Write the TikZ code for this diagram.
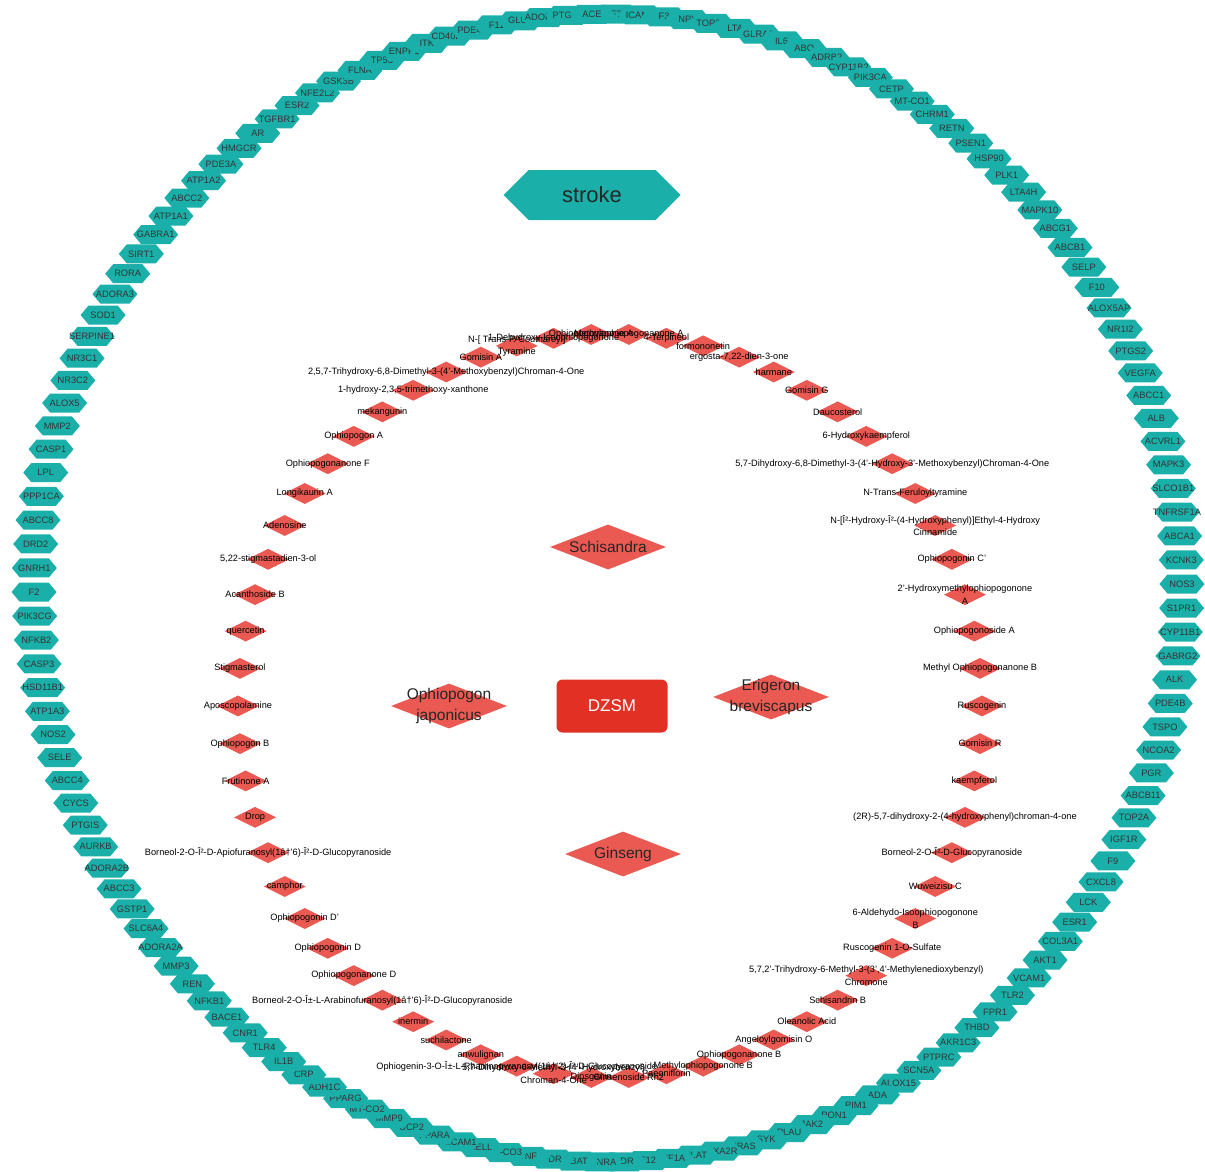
\documentclass[tikz,border=0pt]{standalone}
\usepackage{fontspec}
\setmainfont{Liberation Sans}
\usetikzlibrary{shapes.geometric,shapes.symbols}
\definecolor{tealc}{RGB}{26,176,169}
\definecolor{redc}{RGB}{234,90,82}
\definecolor{dzsmc}{RGB}{226,48,36}
\tikzset{
  gene/.style={shape=signal, signal to=east and west, signal pointer angle=100, fill=tealc, draw=none,
    minimum width=45pt, minimum height=19pt, inner sep=0pt},
  genetext/.style={font=\fontsize{9.3}{10}\selectfont, text=black!80, inner sep=0pt},
  comp/.style={diamond, aspect=2, fill=redc, draw=none, minimum width=42pt, minimum height=21pt, inner sep=0pt},
  comptext/.style={font=\fontsize{9.2}{12.5}\selectfont, align=center, text=black, inner sep=0pt},
  herb/.style={diamond, aspect=2.5, fill=redc, draw=none, minimum width=116pt, minimum height=45pt, inner sep=0pt},
  herbtext/.style={font=\fontsize{15.5}{21}\selectfont, align=center, text=black!85, inner sep=0pt},
}
\begin{document}
\begin{tikzpicture}[x=1pt,y=-1pt]
\useasboundingbox (0,0) rectangle (1205,1172);
\fill[white] (0,0) rectangle (1205,1172);

% outer ring of targets
\foreach \n [count=\i from 0] in {F7,ICAM1,F3,NPY,TOP2B,LTA,GLRA1,IL6,ABO,ADRB2,CYP11B2,PIK3CA,CETP,MT-CO1,CHRM1,RETN,PSEN1,HSP90,PLK1,LTA4H,
 MAPK10,ABCG1,ABCB1,SELP,F10,ALOX5AP,NR1I2,PTGS2,VEGFA,ABCC1,ALB,ACVRL1,MAPK3,SLCO1B1,TNFRSF1A,ABCA1,KCNK3,NOS3,S1PR1,CYP11B1,
 GABRG2,ALK,PDE4B,TSPO,NCOA2,PGR,ABCB11,TOP2A,IGF1R,F9,CXCL8,LCK,ESR1,COL3A1,AKT1,VCAM1,TLR2,FPR1,THBD,AKR1C3,
 PTPRC,SCN5A,ALOX15,ADA,PIM1,PON1,JAK2,PLAU,SYK,HRAS,TBXA2R,PLAT,HIF1A,F12,KDR,EDNRA,ABAT,VDR,TNF,MT-CO3,
 SELL,PECAM1,PPARA,UCP2,MMP9,MT-CO2,PPARG,ADH1C,CRP,IL1B,TLR4,CNR1,BACE1,NFKB1,REN,MMP3,ADORA2A,SLC6A4,GSTP1,ABCC3,
 ADORA2B,AURKB,PTGIS,CYCS,ABCC4,SELE,NOS2,ATP1A3,HSD11B1,CASP3,NFKB2,PIK3CG,F2,GNRH1,DRD2,ABCC8,PPP1CA,LPL,CASP1,MMP2,
 ALOX5,NR3C2,NR3C1,SERPINE1,SOD1,ADORA3,RORA,SIRT1,GABRA1,ATP1A1,ABCC2,ATP1A2,PDE3A,HMGCR,AR,TGFBR1,ESR2,NFE2L2,GSK3B,FLNA,
 TP53,ENPP1,ITK,CD40LG,PDE4D,F11,GLUL,ADORA1,PTGS1,ACE}{
  \pgfmathsetmacro\a{89.2-2.4*\i}
  \node[gene, label={[genetext]center:\n}] (g\i) at ({608+574*cos(\a)},{588-574*sin(\a)}) {};
}

% inner ring of compounds: shapes
\foreach \k in {0,...,61}{
  \pgfmathsetmacro\b{5.80645*\k}
  \node[comp] (c\k) at ({610+372*cos(\b)},{706-372*sin(\b)}) {};
}
% compound labels
\foreach \n [count=\k from 0] in {
 {Ruscogenin},
 {Methyl Ophiopogonanone B},
 {Ophiopogonoside A},
 {2'-Hydroxymethylophiopogonone\\A},
 {Ophiopogonin C'},
 {N-[Î²-Hydroxy-Î²-(4-Hydroxyphenyl)]Ethyl-4-Hydroxy\\Cinnamide},
 {N-Trans-Feruloyltyramine},
 {5,7-Dihydroxy-6,8-Dimethyl-3-(4'-Hydroxy-3'-Methoxybenzyl)Chroman-4-One},
 {6-Hydroxykaempferol},
 {Daucosterol},
 {Gomisin G},
 {harmane},
 {ergosta-7,22-dien-3-one},
 {formononetin},
 {4-Terpineol},
 {Methylophiopogonanone A},
 {Ophiopogonanone A},
 {1-Dehydroxy-Isoophiopogonone},
 {N-[ Trans-P-Coumaroyl]\\Tyramine},
 {Gomisin A},
 {2,5,7-Trihydroxy-6,8-Dimethyl-3-(4'-Methoxybenzyl)Chroman-4-One},
 {1-hydroxy-2,3,5-trimethoxy-xanthone},
 {mekangunin},
 {Ophiopogon A},
 {Ophiopogonanone F},
 {Longikaurin A},
 {Adenosine},
 {5,22-stigmastadien-3-ol},
 {Acanthoside B},
 {quercetin},
 {Stigmasterol},
 {Aposcopolamine},
 {Ophiopogon B},
 {Frutinone A},
 {Drop},
 {Borneol-2-O-Î²-D-Apiofuranosyl(1â†’6)-Î²-D-Glucopyranoside},
 {camphor},
 {Ophiopogonin D'},
 {Ophiopogonin D},
 {Ophiopogonanone D},
 {Borneol-2-O-Î±-L-Arabinofuranosyl(1â†’6)-Î²-D-Glucopyranoside},
 {inermin},
 {suchilactone},
 {anwulignan},
 {Ophiogenin-3-O-Î±-L-Rhamnopyranosyl(1â†’2)-Î²-D-Glucopyranoside},
 {5,7-Dihydroxy-6-Methyl-3-(4'-Hydroxybenzyl)\\Chroman-4-One},
 {Diosgenin},
 {Ginsenoside Rh2},
 {Paeoniflorin},
 {Methylophiopogonone B},
 {Ophiopogonanone B},
 {Angeloylgomisin O},
 {Oleanolic Acid},
 {Schisandrin B},
 {5,7,2'-Trihydroxy-6-Methyl-3-(3',4'-Methylenedioxybenzyl)\\Chromone},
 {Ruscogenin 1-O-Sulfate},
 {6-Aldehydo-Isoophiopogonone\\B},
 {Wuweizisu C},
 {Borneol-2-O-Î²-D-Glucopyranoside},
 {(2R)-5,7-dihydroxy-2-(4-hydroxyphenyl)chroman-4-one},
 {kaempferol},
 {Gomisin R}}{
  \node[comptext] (t\k) at (c\k) {\n};
}

% central nodes
\node[shape=signal, signal to=east and west, signal pointer angle=90, fill=tealc,
  minimum width=177pt, minimum height=50pt, inner sep=0pt,
  label={[font=\fontsize{22}{24}\selectfont, text=black!85]center:stroke}] (stroke) at (592,195) {};
\node[herb, label={[herbtext]center:Schisandra}] (schis) at (608,547) {};
\node[herb, label={[herbtext]center:Ophiopogon\\japonicus}] (ophio) at (449,706) {};
\node[herb, label={[herbtext]center:Erigeron\\breviscapus}] (erig) at (771,697) {};
\node[herb, label={[herbtext]center:Ginseng}] (gins) at (623,854) {};
\node[rectangle, rounded corners=6pt, fill=dzsmc, minimum width=111pt, minimum height=53pt,
  font=\fontsize{17}{19}\selectfont, text=white] (dzsm) at (612,706) {DZSM};
\end{tikzpicture}
\end{document}
